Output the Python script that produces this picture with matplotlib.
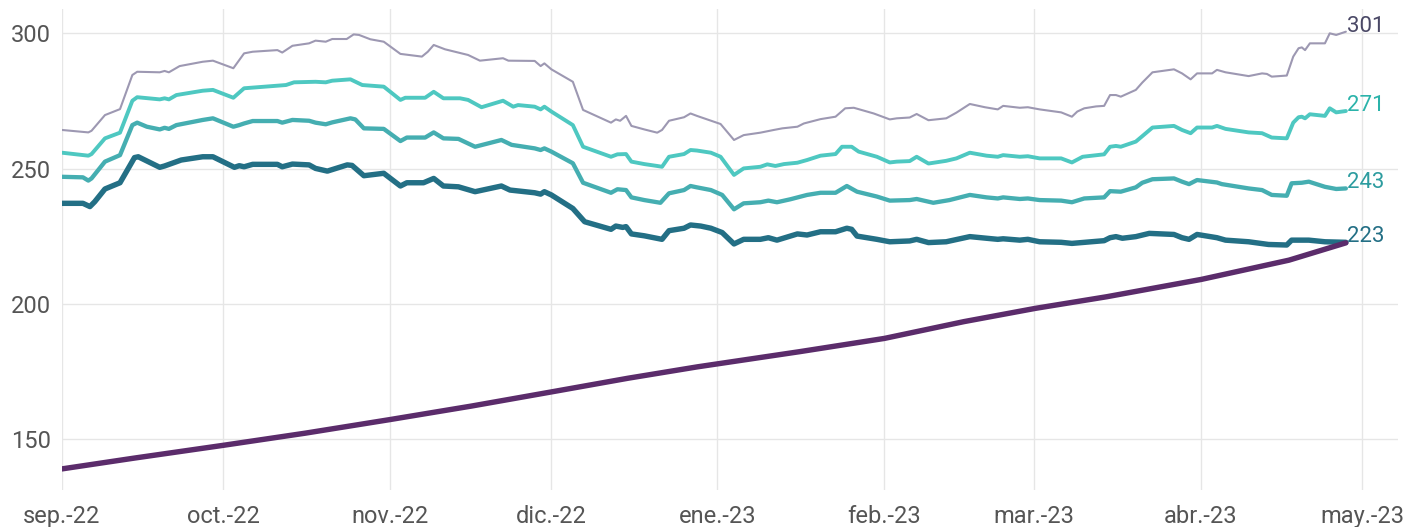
import pandas as pd
import matplotlib.pyplot as plt
import matplotlib.dates as mdates

plt.rcParams['font.family'] = ['Roboto', 'DejaVu Sans']

# Fecha de referencia: los días se cuentan desde el 1 de septiembre de 2022
start_date = '2022-09-01'

gray_days = [0, 4.9, 5.5, 8.0, 10.8, 13.1, 14.0, 18.2, 19.1, 19.9,
             21.9, 26.2, 28.1, 31.9, 33.9, 35.5, 40.1, 41.0, 42.9, 46.0,
             47.2, 49.1, 50.3, 53.0, 54.3, 55.3, 57.4, 59.9, 63.0, 67.0,
             68.1, 69.2, 71.3, 75.6, 77.8, 82.1, 83.1, 88.0, 89.1, 89.8,
             91.1, 95.1, 97.0, 102.2, 103.1, 103.9, 105.0, 106.0, 108.4, 110.8,
             111.7, 113.0, 115.8, 117.0, 118.2, 122.6, 125.1, 126.9, 130.0, 132.5,
             134.1, 136.9, 138.1, 141.2, 144.0, 145.8, 147.4, 151.1, 154.1, 155.4,
             157.8, 159.1, 161.3, 164.6, 166.5, 169.0, 171.8, 174.2, 175.2, 178.3,
             179.8, 182.0, 186.0, 188.0, 189.0, 190.3, 192.5, 194.0, 195.1, 196.2,
             197.1, 199.9, 201.1, 203.0, 207.0, 208.5, 210.1, 211.3, 214.1, 215.0,
             216.6, 220.9, 223.4, 224.3, 225.2, 228.0, 229.2, 230.2, 230.8, 231.4,
             232.3, 235.1, 236.0, 237.2, 239.0]
gray_vals = [264.3, 263.4, 264.0, 269.8, 272.0, 284.6, 285.8, 285.6, 286.1, 285.6,
             287.9, 289.5, 289.9, 287.1, 292.6, 293.2, 293.8, 292.9, 295.4, 296.3,
             297.3, 296.9, 297.9, 297.9, 299.6, 299.4, 297.8, 296.9, 292.4, 291.4,
             293.2, 295.7, 294.1, 292.0, 289.9, 290.8, 289.9, 289.8, 287.9, 288.9,
             286.7, 282.1, 271.7, 267.0, 268.2, 267.7, 269.5, 265.8, 264.5, 263.3,
             264.3, 267.7, 269.0, 270.4, 269.5, 266.5, 260.6, 262.4, 263.3, 264.3,
             264.9, 265.5, 266.7, 268.3, 269.2, 272.3, 272.5, 270.4, 268.2, 268.6,
             268.9, 270.2, 267.9, 268.6, 270.7, 273.9, 272.7, 271.9, 273.2, 272.5,
             272.7, 271.9, 270.8, 269.2, 271.1, 272.3, 273.0, 273.2, 277.2, 277.2,
             276.6, 279.1, 281.8, 285.6, 286.7, 285.2, 283.0, 285.2, 285.2, 286.5,
             285.6, 284.2, 285.2, 285.0, 284.0, 284.4, 291.4, 294.5, 294.8, 293.8,
             296.3, 296.3, 300.0, 299.4, 300.6]

turq_days = [0, 4.9, 5.5, 8.0, 10.8, 13.1, 14.0, 18.2, 19.1, 19.9,
             21.3, 26.2, 28.1, 31.9, 33.9, 41.7, 43.2, 47.2, 49.1, 50.3,
             53.7, 55.9, 59.9, 63.0, 63.9, 67.6, 69.2, 71.0, 74.1, 75.6,
             78.1, 82.1, 84.0, 84.9, 88.0, 89.1, 89.8, 91.1, 95.1, 97.0,
             102.2, 103.4, 105.0, 106.0, 108.4, 110.8, 111.7, 113.0, 115.8, 117.0,
             118.2, 120.8, 122.6, 125.1, 126.9, 130.0, 131.3, 132.8, 134.4, 136.9,
             138.7, 141.2, 144.0, 145.2, 147.0, 148.3, 151.7, 154.1, 155.4, 157.8,
             159.1, 161.3, 164.6, 166.5, 169.0, 172.1, 174.2, 175.2, 178.3, 179.8,
             182.0, 186.0, 188.0, 190.0, 194.0, 195.1, 196.2, 197.1, 199.9, 201.1,
             203.0, 207.0, 208.5, 210.1, 211.3, 214.1, 215.0, 216.6, 220.9, 223.4,
             225.2, 228.0, 229.2, 230.2, 230.8, 231.4, 232.3, 235.1, 236.0, 237.2,
             239.0]
turq_vals = [255.9, 254.8, 255.4, 261.2, 263.3, 275.1, 276.4, 275.6, 276.0, 275.6,
             277.2, 278.8, 279.1, 276.2, 279.7, 280.9, 281.9, 282.1, 281.9, 282.5,
             283.0, 280.9, 280.3, 275.4, 276.2, 276.2, 278.4, 276.0, 276.0, 275.4,
             272.7, 275.1, 272.9, 273.5, 272.9, 271.9, 272.9, 271.1, 266.1, 258.1,
             254.4, 255.3, 255.4, 252.6, 251.7, 251.0, 250.7, 254.4, 255.4, 256.9,
             256.7, 255.9, 254.4, 247.7, 250.1, 250.7, 251.6, 251.0, 251.7, 252.2,
             253.2, 254.8, 255.4, 258.1, 258.1, 256.3, 254.4, 252.3, 252.6, 252.8,
             254.4, 251.9, 252.9, 253.8, 255.9, 254.8, 254.4, 255.0, 254.4, 254.6,
             253.8, 253.8, 252.3, 254.4, 255.3, 258.1, 258.4, 258.1, 260.0, 262.0,
             265.2, 265.8, 264.3, 263.1, 265.2, 265.2, 265.8, 264.7, 263.4, 263.1,
             261.5, 261.2, 267.0, 269.0, 269.2, 268.6, 270.1, 269.5, 272.3, 270.8,
             271.3]

med_days = [0, 3.9, 4.9, 5.5, 8.0, 10.8, 13.1, 14.0, 15.8, 18.2,
            19.1, 19.9, 21.3, 26.2, 28.1, 31.9, 33.0, 33.9, 35.5, 40.1,
            41.0, 42.9, 46.0, 47.2, 49.1, 50.3, 53.7, 54.6, 56.2, 59.9,
            63.0, 64.2, 67.6, 69.2, 71.0, 73.8, 76.9, 81.8, 83.7, 88.0,
            89.1, 89.8, 91.1, 95.1, 97.0, 102.2, 103.4, 105.0, 106.0, 108.4,
            111.4, 113.0, 115.8, 117.0, 118.2, 120.8, 122.9, 125.1, 126.9, 130.0,
            131.5, 133.1, 135.6, 138.7, 141.2, 144.0, 146.1, 148.0, 151.7, 154.1,
            157.8, 159.1, 162.2, 165.2, 169.0, 172.1, 174.2, 175.2, 178.3, 179.8,
            182.0, 186.0, 188.0, 190.3, 194.0, 195.1, 197.1, 199.9, 201.1, 203.0,
            207.0, 208.5, 209.8, 211.3, 215.0, 215.9, 220.9, 223.4, 225.2, 228.0,
            228.9, 230.8, 232.1, 235.1, 237.2, 239.0]
med_vals = [247.0, 246.8, 245.6, 246.4, 252.6, 255.0, 266.1, 267.0, 265.5, 264.5,
            265.1, 264.7, 266.1, 268.0, 268.6, 265.5, 266.1, 266.7, 267.6, 267.6,
            267.0, 268.0, 267.7, 267.0, 266.4, 267.1, 268.6, 268.2, 264.9, 264.7,
            260.2, 261.5, 261.5, 263.4, 261.2, 261.0, 258.1, 260.6, 258.8, 257.5,
            256.9, 257.5, 256.3, 252.0, 244.8, 241.1, 242.4, 242.1, 239.4, 238.4,
            237.4, 240.9, 242.1, 243.6, 243.1, 242.1, 240.3, 235.0, 237.2, 237.6,
            238.2, 237.6, 238.7, 240.3, 241.1, 241.1, 243.6, 241.5, 239.7, 238.2,
            238.4, 238.8, 237.4, 238.4, 240.3, 239.4, 239.0, 239.4, 238.8, 239.0,
            238.4, 238.2, 237.6, 239.0, 239.4, 241.7, 241.5, 243.1, 244.8, 246.1,
            246.4, 245.2, 244.3, 245.8, 244.9, 244.3, 242.7, 242.1, 240.3, 240.0,
            244.6, 244.8, 245.2, 243.3, 242.5, 242.7]

dark_days = [0, 3.9, 5.2, 6.1, 8.0, 10.8, 13.5, 14.2, 18.2, 19.1,
             22.2, 26.2, 28.1, 32.1, 33.0, 33.9, 35.5, 40.1, 41.0, 42.9,
             46.0, 47.2, 49.4, 53.1, 54.0, 56.2, 59.9, 63.0, 64.2, 67.3,
             69.2, 71.0, 73.8, 76.9, 81.8, 83.4, 88.0, 89.1, 89.8, 91.1,
             95.1, 97.3, 102.2, 103.1, 104.4, 105.0, 106.0, 108.4, 111.7, 113.0,
             115.8, 117.0, 118.9, 120.8, 122.9, 125.1, 126.9, 130.0, 131.5, 133.1,
             136.9, 138.7, 141.2, 144.0, 146.1, 147.0, 148.0, 151.7, 154.1, 157.8,
             159.1, 161.3, 164.6, 169.0, 172.1, 174.2, 175.2, 178.3, 179.8, 182.0,
             186.0, 188.0, 194.0, 195.1, 196.2, 197.4, 199.9, 202.4, 207.0, 208.5,
             209.8, 211.3, 215.0, 216.6, 220.9, 224.6, 228.0, 228.9, 232.1, 235.1,
             239.0]
dark_vals = [237.2, 237.2, 236.0, 237.8, 242.5, 244.8, 254.1, 254.4, 250.5, 251.0,
             253.2, 254.4, 254.4, 250.5, 251.1, 250.7, 251.6, 251.6, 250.7, 251.7,
             251.4, 250.1, 249.1, 251.4, 251.2, 247.4, 248.3, 243.6, 244.8, 244.8,
             246.4, 243.6, 243.3, 241.5, 243.6, 242.1, 241.1, 240.6, 241.5, 240.3,
             235.3, 230.4, 227.6, 228.8, 228.3, 228.6, 225.9, 225.2, 223.9, 227.1,
             228.0, 229.2, 228.8, 228.0, 226.4, 222.2, 223.9, 223.9, 224.5, 223.6,
             225.9, 225.5, 226.7, 226.7, 228.0, 227.6, 225.1, 223.9, 223.0, 223.3,
             223.9, 222.7, 223.0, 224.9, 224.3, 223.9, 224.1, 223.6, 223.9, 223.0,
             222.8, 222.4, 223.4, 224.5, 224.9, 224.3, 224.9, 226.1, 225.7, 224.5,
             223.9, 225.7, 224.5, 223.6, 223.0, 222.0, 221.8, 223.6, 223.6, 223.0,
             222.8]

purple_days = [0, 13.5, 30, 45.3, 61, 76.2, 91, 105.4, 118.3, 137.3,
               153.1, 167.9, 181.2, 194.5, 212.1, 228.4, 239.0]
purple_vals = [139.1, 143.1, 147.8, 152.3, 157.3, 162.3, 167.5, 172.6, 176.8, 182.4,
               187.3, 193.5, 198.4, 202.7, 209.1, 216.2, 222.6]

month_labels = ['sep.-22', 'oct.-22', 'nov.-22', 'dic.-22', 'ene.-23',
                'feb.-23', 'mar.-23', 'abr.-23', 'may.-23']
y_ticks = [150, 200, 250, 300]


def to_dates(days):
    return pd.Timestamp(start_date) + pd.to_timedelta(days, unit='D')


fig = plt.figure(figsize=(14.12, 5.27), dpi=100)
ax = fig.add_axes([0.0439, 0.0702, 0.9462, 0.9128])

# (días, valores, color, grosor, color de la etiqueta final)
series = [
    (gray_days, gray_vals, '#9d98b2', 1.5, '#4a4866'),
    (turq_days, turq_vals, '#4ec8c1', 2.8, '#2bb3aa'),
    (med_days, med_vals, '#45aeb1', 3.1, '#2c9c9f'),
    (dark_days, dark_vals, '#236f85', 3.9, '#236f85'),
    (purple_days, purple_vals, '#5b2c6b', 3.9, None),
]

for days, vals, color, lw, label_color in series:
    dates = to_dates(days)
    ax.plot(dates, vals, color=color, linewidth=lw, solid_joinstyle='round',
            solid_capstyle='round', zorder=3)
    if label_color is not None:
        ax.annotate(f'{vals[-1]:.0f}', (dates[-1], vals[-1]),
                    xytext=(1, 0), textcoords='offset points',
                    ha='left', va='baseline', fontsize=16,
                    color=label_color, zorder=4)

# Ejes y rejilla
month_starts = pd.date_range('2022-09-01', '2023-05-01', freq='MS')
ax.set_xticks(month_starts)
ax.set_xticklabels(month_labels)
ax.set_yticks(y_ticks)
ax.set_xlim(pd.Timestamp('2022-09-01'), pd.Timestamp('2023-05-07 17:00'))
ax.set_ylim(131.3, 309.0)

ax.grid(True, color='#e6e6e6', linewidth=1.0, zorder=0)
ax.set_axisbelow(True)
for spine in ax.spines.values():
    spine.set_visible(False)

ax.tick_params(axis='both', length=0, labelsize=17, labelcolor='#555555')
ax.tick_params(axis='x', pad=11)
ax.tick_params(axis='y', pad=8)

plt.savefig('out.png', dpi=100)
plt.close()
